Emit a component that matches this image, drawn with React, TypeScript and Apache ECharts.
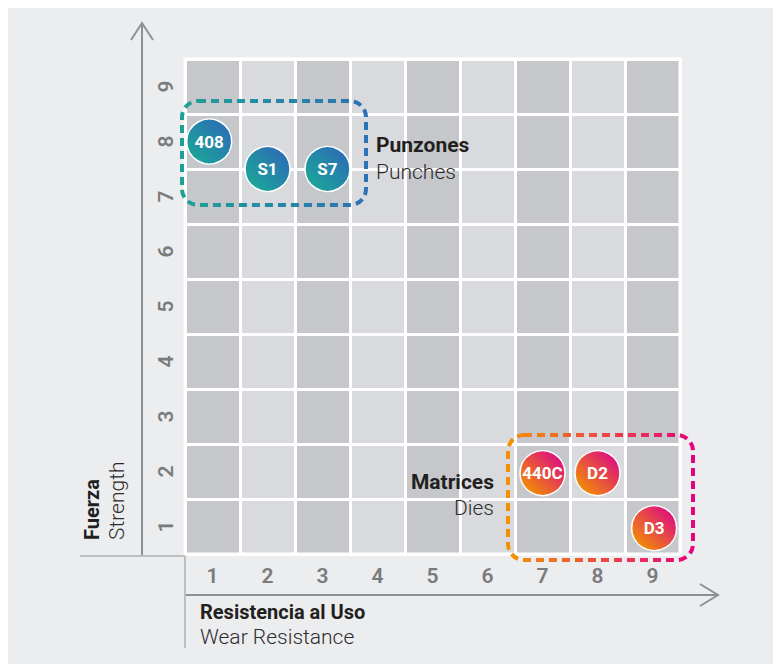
import React, { useEffect, useRef } from "react";
import * as echarts from "echarts";

const xCategories = ["1", "2", "3", "4", "5", "6", "7", "8", "9"];
const yCategories = ["1", "2", "3", "4", "5", "6", "7", "8", "9"];

const punchNames = ["408", "S1", "S7"];
const punchX = [0.94, 2.0, 3.09];
const punchY = [8.0, 7.5, 7.5];

const dieNames = ["440C", "D2", "D3"];
const dieX = [7.0, 8.0, 9.03];
const dieY = [1.97, 1.97, 0.97];

const OX = 8;
const OY = 8;
const px = (x: number) => x - OX;
const py = (y: number) => y - OY;

const FONT = "Roboto, 'Noto Sans', sans-serif";
const AXIS_GRAY = "#8E8F91";
const LIGHT_LINE = "#BDBEC0";

export default function App() {
  const ref = useRef<HTMLDivElement>(null);
  useEffect(() => {
    if (!ref.current) return;
    const chart = echarts.init(ref.current, undefined, { renderer: "svg" });
    const LG = echarts.graphic.LinearGradient;

    const punchGrad = new LG(0, 1, 1, 0, [
      { offset: 0.1, color: "#1BA797" },
      { offset: 0.9, color: "#2C6CB7" },
    ]);
    const dieGrad = new LG(0, 1, 1, 0, [
      { offset: 0.1, color: "#F39200" },
      { offset: 0.9, color: "#DC0A84" },
    ]);
    const punchBoxGrad = new LG(0, 0, 1, 0, [
      { offset: 0, color: "#1EA096" },
      { offset: 1, color: "#2B72B7" },
    ]);
    const dieBoxGrad = new LG(0, 0, 1, 0, [
      { offset: 0, color: "#F39200" },
      { offset: 1, color: "#E5037F" },
    ]);

    const bubbleLabel = {
      show: true,
      position: "inside",
      formatter: (p: any) => p.name,
      color: "#FFFFFF",
      fontFamily: FONT,
      fontWeight: "bold",
      fontSize: 17,
    };

    const gridLeft = px(185);
    const gridTop = py(59);

    const tickLabel = {
      color: "#7A7B7D",
      fontFamily: FONT,
      fontWeight: 600,
      fontSize: 21,
      interval: 0,
    };

    chart.setOption({
      animation: false,
      backgroundColor: "#ECEDEF",
      grid: { left: gridLeft, top: gridTop, width: 495, height: 495, containLabel: false },
      xAxis: [
        {
          type: "category",
          data: xCategories,
          boundaryGap: true,
          z: 0,
          axisLine: { show: false },
          axisTick: { show: false },
          axisLabel: { ...tickLabel, margin: 11 },
          splitLine: { show: true, interval: 0, lineStyle: { color: "#FFFFFF", width: 3 } },
          splitArea: {
            show: true,
            interval: 0,
            areaStyle: { color: ["#C6C7CB", "#D9DADD"] },
          },
        },
        { type: "value", min: 0.5, max: 9.5, show: false },
      ],
      yAxis: [
        {
          type: "category",
          data: yCategories,
          boundaryGap: true,
          z: 1,
          axisLine: { show: false },
          axisTick: { show: false },
          axisLabel: { ...tickLabel, margin: 9, rotate: 90 },
          splitLine: { show: true, interval: 0, lineStyle: { color: "#FFFFFF", width: 3 } },
          splitArea: { show: false },
        },
        { type: "value", min: 0.5, max: 9.5, show: false },
      ],
      series: [
        {
          type: "scatter",
          name: "Punzones",
          xAxisIndex: 1,
          yAxisIndex: 1,
          symbolSize: 45,
          z: 5,
          data: punchNames.map((n, i) => ({ name: n, value: [punchX[i], punchY[i]] })),
          itemStyle: { color: punchGrad, borderColor: "#FFFFFF", borderWidth: 1.5, opacity: 1 },
          label: bubbleLabel,
        },
        {
          type: "scatter",
          name: "Matrices",
          xAxisIndex: 1,
          yAxisIndex: 1,
          symbolSize: 45,
          z: 5,
          data: dieNames.map((n, i) => ({ name: n, value: [dieX[i], dieY[i]] })),
          itemStyle: { color: dieGrad, borderColor: "#FFFFFF", borderWidth: 1.5, opacity: 1 },
          label: bubbleLabel,
        },
      ],
      graphic: [
        // white grid border
        {
          type: "rect",
          z: 2,
          shape: { x: gridLeft, y: gridTop, width: 495, height: 495 },
          style: { fill: null, stroke: "#FFFFFF", lineWidth: 3 },
        },
        // y axis with arrow
        {
          type: "line",
          z: 10,
          shape: { x1: px(142), y1: py(24), x2: px(142), y2: py(556) },
          style: { stroke: AXIS_GRAY, lineWidth: 2 },
        },
        {
          type: "polyline",
          z: 10,
          shape: { points: [[px(131), py(40)], [px(142), py(23)], [px(153), py(40)]] },
          style: { stroke: AXIS_GRAY, lineWidth: 2, fill: null },
        },
        // x axis with arrow
        {
          type: "line",
          z: 10,
          shape: { x1: px(185), y1: py(595), x2: px(717), y2: py(595) },
          style: { stroke: AXIS_GRAY, lineWidth: 2 },
        },
        {
          type: "polyline",
          z: 10,
          shape: { points: [[px(700), py(584)], [px(718), py(595)], [px(700), py(606)]] },
          style: { stroke: AXIS_GRAY, lineWidth: 2, fill: null },
        },
        // quadrant separator lines
        {
          type: "line",
          z: 10,
          shape: { x1: px(80), y1: py(556), x2: px(185), y2: py(556) },
          style: { stroke: LIGHT_LINE, lineWidth: 2 },
        },
        {
          type: "line",
          z: 10,
          shape: { x1: px(185), y1: py(556), x2: px(185), y2: py(648) },
          style: { stroke: LIGHT_LINE, lineWidth: 2 },
        },
        // dashed group boxes
        {
          type: "rect",
          z: 4,
          shape: { x: px(182), y: py(101), width: 184, height: 104, r: 16 },
          style: { fill: null, stroke: punchBoxGrad, lineWidth: 4, lineDash: [8, 5] },
        },
        {
          type: "rect",
          z: 4,
          shape: { x: px(508), y: py(435), width: 185, height: 125, r: 16 },
          style: { fill: null, stroke: dieBoxGrad, lineWidth: 4, lineDash: [8, 5] },
        },
        // group labels
        {
          type: "text",
          z: 10,
          x: px(376),
          y: py(145),
          style: {
            text: "Punzones",
            fill: "#231F20",
            font: `bold 21px ${FONT}`,
            textAlign: "left",
            textVerticalAlign: "middle",
          },
        },
        {
          type: "text",
          z: 10,
          x: px(376),
          y: py(172),
          style: {
            text: "Punches",
            fill: "#2E2B2C",
            font: `300 21px ${FONT}`,
            textAlign: "left",
            textVerticalAlign: "middle",
          },
        },
        {
          type: "text",
          z: 10,
          x: px(494),
          y: py(482),
          style: {
            text: "Matrices",
            fill: "#231F20",
            font: `bold 21px ${FONT}`,
            textAlign: "right",
            textVerticalAlign: "middle",
          },
        },
        {
          type: "text",
          z: 10,
          x: px(494),
          y: py(508),
          style: {
            text: "Dies",
            fill: "#2E2B2C",
            font: `300 21px ${FONT}`,
            textAlign: "right",
            textVerticalAlign: "middle",
          },
        },
        // x axis title
        {
          type: "text",
          z: 10,
          x: px(200),
          y: py(612),
          style: {
            text: "Resistencia al Uso",
            fill: "#231F20",
            font: `bold 20px ${FONT}`,
            textAlign: "left",
            textVerticalAlign: "middle",
          },
        },
        {
          type: "text",
          z: 10,
          x: px(200),
          y: py(637),
          style: {
            text: "Wear Resistance",
            fill: "#2E2B2C",
            font: `300 21px ${FONT}`,
            textAlign: "left",
            textVerticalAlign: "middle",
          },
        },
        // y axis title (rotated)
        {
          type: "text",
          z: 10,
          x: px(92),
          y: py(540),
          rotation: Math.PI / 2,
          style: {
            text: "Fuerza",
            fill: "#231F20",
            font: `bold 20px ${FONT}`,
            textAlign: "left",
            textVerticalAlign: "middle",
          },
        },
        {
          type: "text",
          z: 10,
          x: px(117),
          y: py(540),
          rotation: Math.PI / 2,
          style: {
            text: "Strength",
            fill: "#2E2B2C",
            font: `300 21px ${FONT}`,
            textAlign: "left",
            textVerticalAlign: "middle",
          },
        },
      ],
    });
    return () => chart.dispose();
  }, []);
  return (
    <div
      ref={ref}
      style={{ position: "absolute", left: OX, top: OY, width: 765, height: 656 }}
    />
  );
}
